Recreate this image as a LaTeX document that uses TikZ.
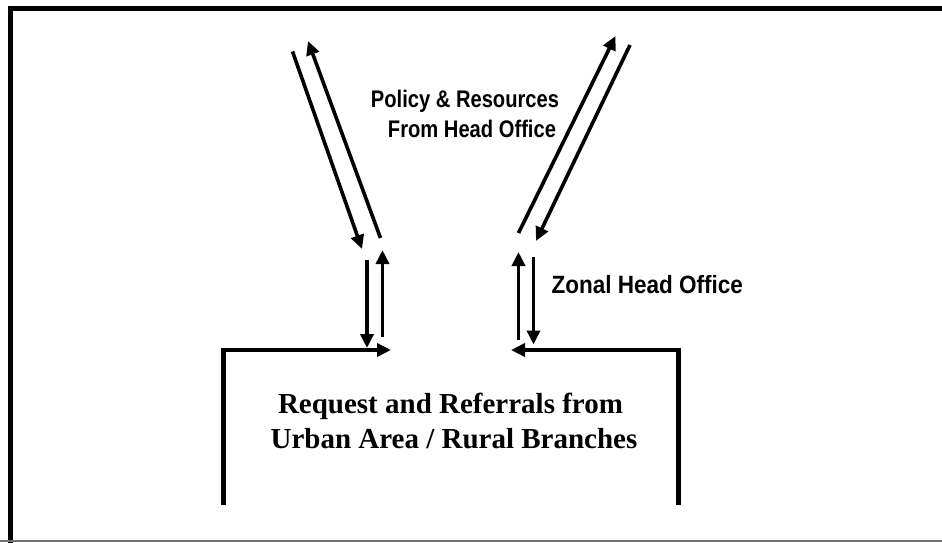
\documentclass[tikz,border=0pt]{standalone}
\usepackage{fontspec}
\setmainfont{Liberation Serif}
\setsansfont{Liberation Sans}
\usetikzlibrary{arrows.meta}
\begin{document}
\begin{tikzpicture}[x=1pt,y=-1pt,
  flow/.style={line width=3.6pt,-{Triangle[length=14pt,width=13pt]}},
  wall/.style={line width=4.6pt},
  sanslabel/.style={font=\sffamily\bfseries\fontsize{24}{28}\selectfont, xscale=0.84, inner sep=0pt, anchor=base},
  zonallabel/.style={font=\sffamily\bfseries\fontsize{25}{28}\selectfont, xscale=0.9, inner sep=0pt, anchor=base west},
  boxlabel/.style={font=\rmfamily\bfseries\fontsize{29}{35}\selectfont, inner sep=0pt, anchor=base}]
\useasboundingbox (0,0) rectangle (942,543);
\fill[white] (0,0) rectangle (942,543);
% frame
\draw[line width=5pt] (10.5,543) -- (10.5,8.5) -- (942,8.5);
\draw[line width=1.5pt, black!55] (0,541) -- (942,541);
% coordinates
\coordinate (ld1s) at (292.5,51.5);
\coordinate (ld1e) at (362,249);
\coordinate (lu1s) at (380.5,238);
\coordinate (lu1e) at (308,41);
\coordinate (ld2s) at (367,260);
\coordinate (ld2e) at (367,348);
\coordinate (lu2s) at (382.5,337);
\coordinate (lu2e) at (382.5,250);
\coordinate (rd1s) at (630,45);
\coordinate (rd1e) at (536,241);
\coordinate (ru1s) at (518.5,233);
\coordinate (ru1e) at (615.5,36);
\coordinate (ru2s) at (518.5,340);
\coordinate (ru2e) at (518.5,252);
\coordinate (rd2s) at (533.5,257);
\coordinate (rd2e) at (533.5,344.5);
\coordinate (lwb) at (223.3,505);
\coordinate (lwt) at (223.3,350);
\coordinate (lin) at (391,350);
\coordinate (rwb) at (678.5,505);
\coordinate (rwt) at (678.5,350);
\coordinate (rin) at (511,350);
% arrows
\draw[flow] (ld1s) -- (ld1e);
\draw[flow] (lu1s) -- (lu1e);
\draw[flow] (ld2s) -- (ld2e);
\draw[flow] (lu2s) -- (lu2e);
\draw[flow] (rd1s) -- (rd1e);
\draw[flow] (ru1s) -- (ru1e);
\draw[flow] (ru2s) -- (ru2e);
\draw[flow] (rd2s) -- (rd2e);
% box walls
\draw[wall] (lwb) -- (lwt);
\draw[flow] (lwt) ++(-2.3,0) coordinate (lwc) (lwc) -- (lin);
\draw[wall] (rwb) -- (rwt);
\draw[flow] (rwt) ++(2.3,0) coordinate (rwc) (rwc) -- (rin);
% labels
\node[sanslabel] (policyA) at (465,107.5) {Policy \& Resources};
\node[sanslabel] (policyB) at (472,137.5) {From Head Office};
\node[zonallabel] (zonal) at (551.5,293.5) {Zonal Head Office};
\node[boxlabel] (reqA) at (450.5,413) {Request and Referrals from};
\node[boxlabel] (reqB) at (454,448) {Urban Area / Rural Branches};
\end{tikzpicture}
\end{document}
